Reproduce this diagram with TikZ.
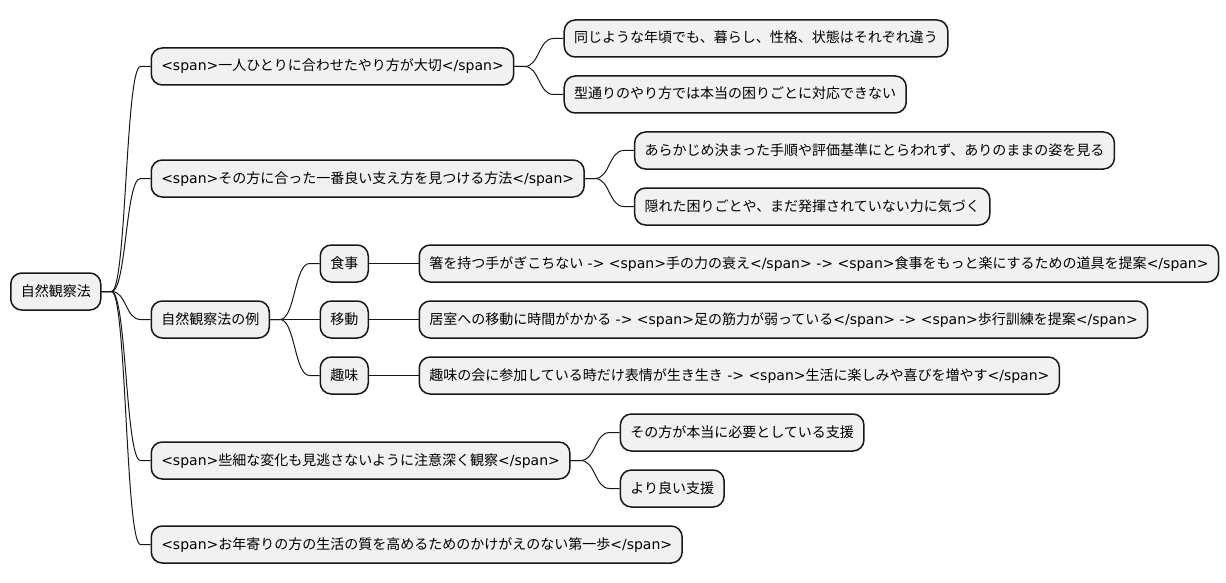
\documentclass[tikz,border=0pt]{standalone}
\usepackage{fontspec}
\setmainfont{DejaVu Sans}
\newfontfamily\lafont{DejaVu Sans}
\newfontfamily\jpfont{Noto Sans CJK JP}
\usetikzlibrary{calc}
% automatic switch to the CJK font for Japanese characters
\XeTeXinterchartokenstate=1
\newXeTeXintercharclass\jpclass
\def\setjprange#1#2{\count255=#1\relax
  \loop\XeTeXcharclass\count255=\jpclass\relax
  \ifnum\count255<#2\relax\advance\count255 by 1\relax\repeat}
\setjprange{"3000}{"30FF}
\setjprange{"4E00}{"9FFF}
\setjprange{"FF00}{"FFEF}
\XeTeXinterchartoks 0 \jpclass = {\jpfont}
\XeTeXinterchartoks 4095 \jpclass = {\jpfont}
\XeTeXinterchartoks \jpclass 0 = {\lafont}
\XeTeXinterchartoks \jpclass 4095 = {\lafont}
\definecolor{boxfill}{HTML}{F1F1F1}
\definecolor{boxline}{HTML}{181818}
\tikzset{
  box/.style={draw=boxline, fill=boxfill, line width=1.5pt, rounded corners=11pt,
    minimum height=37pt, inner xsep=10pt, inner ysep=0pt,
    text height=11pt, text depth=2pt, anchor=west, text=black,
    font=\lafont\fontsize{14pt}{17pt}\selectfont},
  conn/.style={draw=boxline, line width=1pt},
  link/.style={to path={-- ++(10pt,0) .. controls +(15pt,0) and +(-15pt,0) .. ($(\tikztotarget)+(-10pt,0)$) -- (\tikztotarget)}},
}
\begin{document}
\begin{tikzpicture}[x=1pt,y=-1pt]
\useasboundingbox (0,0) rectangle (1226,583);
% root
\node[box] (root) at (10,291.5) {自然観察法};
% level 1
\node[box] (a) at ($(root.east |- 0,66.5)+(49,0)$) {<span>一人ひとりに合わせたやり方が大切</span>};
\node[box] (b) at ($(root.east |- 0,178.5)+(49,0)$) {<span>その方に合った一番良い支え方を見つける方法</span>};
\node[box] (c) at ($(root.east |- 0,319.5)+(49,0)$) {自然観察法の例};
\node[box] (d) at ($(root.east |- 0,460.5)+(49,0)$) {<span>些細な変化も見逃さないように注意深く観察</span>};
\node[box] (e) at ($(root.east |- 0,544.5)+(49,0)$) {<span>お年寄りの方の生活の質を高めるためのかけがえのない第一歩</span>};
% level 2
\node[box] (a1) at ($(a.east |- 0,38.5)+(49,0)$) {同じような年頃でも、暮らし、性格、状態はそれぞれ違う};
\node[box] (a2) at ($(a.east |- 0,94.5)+(49,0)$) {型通りのやり方では本当の困りごとに対応できない};
\node[box] (b1) at ($(b.east |- 0,150.5)+(49,0)$) {あらかじめ決まった手順や評価基準にとらわれず、ありのままの姿を見る};
\node[box] (b2) at ($(b.east |- 0,206.5)+(49,0)$) {隠れた困りごとや、まだ発揮されていない力に気づく};
\node[box] (c1) at ($(c.east |- 0,263.5)+(49.5,0)$) {食事};
\node[box] (c2) at ($(c.east |- 0,319.5)+(49.5,0)$) {移動};
\node[box] (c3) at ($(c.east |- 0,375.5)+(49.5,0)$) {趣味};
\node[box] (d1) at ($(d.east |- 0,432.5)+(49,0)$) {その方が本当に必要としている支援};
\node[box] (d2) at ($(d.east |- 0,488.5)+(49,0)$) {より良い支援};
% level 3
\node[box] (c11) at ($(c1.east)+(49.5,0)$) {箸を持つ手がぎこちない -> <span>手の力の衰え</span> -> <span>食事をもっと楽にするための道具を提案</span>};
\node[box] (c21) at ($(c2.east)+(49.5,0)$) {居室への移動に時間がかかる -> <span>足の筋力が弱っている</span> -> <span>歩行訓練を提案</span>};
\node[box] (c31) at ($(c3.east)+(49.5,0)$) {趣味の会に参加している時だけ表情が生き生き -> <span>生活に楽しみや喜びを増やす</span>};
% connectors
\foreach \p/\c in {root/a, root/b, root/c, root/d, root/e,
                   a/a1, a/a2, b/b1, b/b2, c/c1, c/c2, c/c3, d/d1, d/d2,
                   c1/c11, c2/c21, c3/c31}
  \draw[conn] (\p.east) to[link] (\c.west);
\end{tikzpicture}
\end{document}
